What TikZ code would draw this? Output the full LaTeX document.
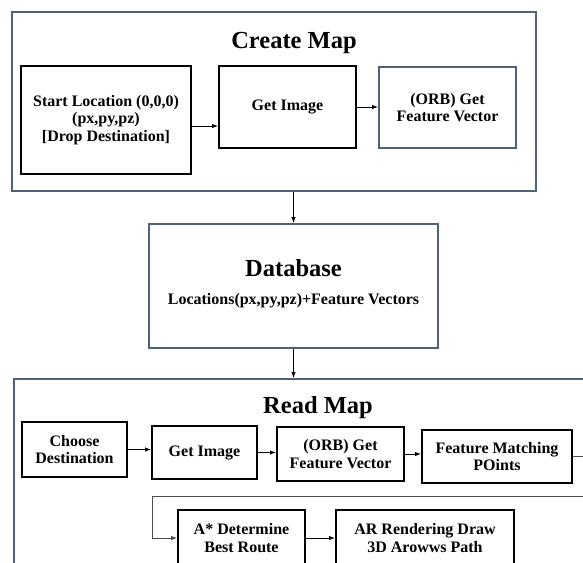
\documentclass[tikz,border=0pt]{standalone}
\usepackage{fontspec}
\setmainfont{Liberation Serif}
\usetikzlibrary{arrows.meta}
\definecolor{slate}{RGB}{80,97,120}

\begin{document}
\begin{tikzpicture}[x=1pt,y=-1pt,line width=1pt,
  outer/.style={draw=slate,line width=2pt,inner sep=0pt},
  blk/.style={draw,line width=2pt,align=center,inner sep=2pt,font=\bfseries\fontsize{16}{17.5}\selectfont},
  gry/.style={blk,draw=slate},
  ttl/.style={font=\bfseries\fontsize{24.5}{27}\selectfont},
  arr/.style={-{Latex[length=6pt,width=4.5pt]},line width=0.9pt}]
 \useasboundingbox (0,0) rectangle (583,562);
 \clip (0,0) rectangle (583,562);
 % create map
 \node[outer,minimum width=524,minimum height=179] (createmap) at (274,101.5) {};
 \node[ttl] (cmtitle) at (294,43) {Create Map};
 \node[blk,minimum width=170,minimum height=108] (start) at (106,120) {Start Location (0,0,0)\\(px,py,pz)\\{[}Drop Destination{]}};
 \node[blk,minimum width=137,minimum height=82]  (getimg1) at (287.5,107) {Get Image};
 \node[gry,minimum width=137,minimum height=81]  (orb1)    at (447.5,107.5) {(ORB) Get\\Feature Vector};
 % database
 \node[outer,minimum width=289,minimum height=124] (database) at (293.5,286) {};
 \node[ttl] (dbtitle) at (293.5,268) {Database};
 \node[font=\bfseries\fontsize{16}{17.5}\selectfont] (dbtext) at (293.5,301) {Locations(px,py,pz)+Feature Vectors};
 % read map
 \node[outer,minimum width=606,minimum height=221] (readmap) at (317,489.5) {};
 \node[ttl] (rmtitle) at (318,408) {Read Map};
 \node[blk,minimum width=105,minimum height=55] (choose)  at (74.5,449.5) {Choose\\Destination};
 \node[blk,minimum width=105,minimum height=53] (getimg2) at (204.5,452.5) {Get Image};
 \node[blk,minimum width=127,minimum height=54] (orb2)    at (340.5,454) {(ORB) Get\\Feature Vector};
 \node[blk,minimum width=150,minimum height=53] (fm)      at (497,456.5) {Feature Matching\\POints};
 \node[blk,minimum width=127,minimum height=56] (astar)   at (241.5,538) {A* Determine\\Best Route};
 \node[blk,minimum width=178,minimum height=56] (ar)      at (425,538) {AR Rendering Draw\\3D Arowws Path};
 \coordinate (loop) at (152,496);

 \draw[arr] ([yshift=-6pt]start.east) -- ([yshift=-6pt]start.east -| getimg1.west);
 \draw[arr] (getimg1.east) -- (getimg1.east -| orb1.west);
 \draw[arr] (createmap.south -| database.north) -- (database.north);
 \draw[arr] (database.south) -- (database.south |- readmap.north);
 \draw[arr] (choose.east) -- (choose.east -| getimg2.west);
 \draw[arr] (getimg2.east) -- (getimg2.east -| orb2.west);
 \draw[arr] (orb2.east) -- (orb2.east -| fm.west);
 \draw[arr,draw=black!70] (fm.east) -- ++(30,0) |- (loop) |- (astar.west);
 \draw[arr] (astar.east) -- (astar.east -| ar.west);
\end{tikzpicture}
\end{document}
